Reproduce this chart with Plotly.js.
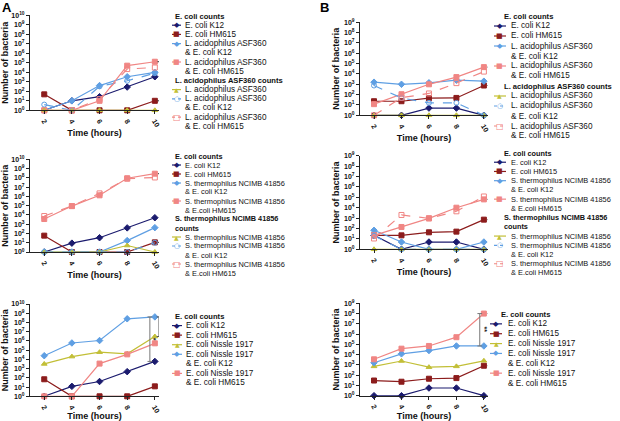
<!DOCTYPE html>
<html><head><meta charset="utf-8">
<script src="https://cdn.plot.ly/plotly-3.0.1.min.js"></script>
<style>html,body{margin:0;padding:0;background:#fff}#chart{width:620px;height:421px}</style>
</head><body><div id="chart"></div>
<script>
const W = 620, H = 421;
const FONT = 'Liberation Sans, Arial, sans-serif';

// ---------- shared axis data ----------
const hours = [2, 4, 6, 8, 10];
const hourLabels = ['2', '4', '6', '8', '10'];
const expsA = [0, 1, 2, 3, 4, 5, 6, 7, 8, 9, 10];
const expsB = [0, 1, 2, 3, 4, 5, 6, 7, 8, 9];

// ---------- Panel A, L. acidophilus ASF360 ----------
const aLa_K12      = [1, 10, 27, 280, 3400];
const aLa_HM615    = [48, 1, 1, 1, 10];
const aLa_coK12    = [1, 10, 400, 3400, 10000];
const aLa_coHM615  = [1, 1, 10, 50000, 130000];
const aLa_alone    = [1, 1, 1, 1, 1];
const aLa_inK12    = [4, 1, 330, 1300, 8000];
const aLa_inHM615  = [1, 1, 15, 22000, 32000];

// ---------- Panel A, S. thermophilus NCIMB 41856 ----------
const aSt_K12      = [1, 9, 35, 400, 5000];
const aSt_HM615    = [58, 1, 1, 1, 11];
const aSt_coK12    = [1, 1, 1, 17, 425];
const aSt_coHM615  = [3600, 90000, 1300000, 90000000, 280000000];
const aSt_alone    = [1, 1, 1, 5, 1];
const aSt_inK12    = [1, 1, 1, 1, 10];
const aSt_inHM615  = [7600, 90000, 2100000, 80000000, 110000000];

// ---------- Panel A, E. coli Nissle 1917 ----------
const aNi_K12      = [1, 12, 40, 470, 6000];
const aNi_HM615    = [70, 1, 1, 1, 12];
const aNi_alone    = [3200, 20000, 60000, 40000, 3000000];
const aNi_coK12    = [25000, 600000, 1100000, 250000000, 400000000];
const aNi_coHM615  = [1, 1, 3500, 35000, 550000];

// ---------- Panel B, L. acidophilus ASF360 ----------
const bLa_K12      = [1, 1, 5, 5, 1];
const bLa_HM615    = [23, 23, 45, 48, 760];
const bLa_coK12    = [1600, 1000, 1400, 2500, 2000];
const bLa_coHM615  = [12, 110, 1000, 5000, 46000];
const bLa_alone    = [1, 1, 1, 1, 1];
const bLa_inK12    = [760, 48, 16, 16, 1];
const bLa_inHM615  = [1, 50, 130, 1300, 17000];

// ---------- Panel B, S. thermophilus NCIMB 41856 ----------
const bSt_K12      = [22, 1, 5, 5, 1];
const bSt_HM615    = [22, 22, 43, 50, 710];
const bSt_coK12    = [67, 5, 1, 1, 5];
const bSt_coHM615  = [22, 140, 950, 10000, 63000];
const bSt_alone    = [1, 1, 1, 1, 1];
const bSt_inK12    = [20, 1, 1, 1, 1];
const bSt_inHM615  = [11, 2000, 950, 4500, 120000];

// ---------- Panel B, E. coli Nissle 1917 ----------
const bNi_K12      = [1, 1, 5.6, 5.6, 1];
const bNi_HM615    = [30, 23, 45, 52, 830];
const bNi_alone    = [720, 2400, 600, 720, 2500];
const bNi_coK12    = [1600, 12000, 25000, 70000, 70000];
const bNi_coHM615  = [3500, 38000, 70000, 500000, 100000000];

// ---------- labels ----------
const LA = 'L. acidophilus ASF360';
const ST = 'S. thermophilus NCIMB 41856';
const NI = 'E. coli Nissle 1917';

// ---------- styles ----------
const STY = {
  k12: {color: '#1b1b6e', symbol: 'diamond', dash: 'solid', glyph: '◆', gs: 7},
  hm:  {color: '#8c1c1c', symbol: 'square', dash: 'solid', glyph: '■', gs: 7},
  lbS: {color: '#5f9fe3', symbol: 'diamond', dash: 'solid', glyph: '◆', gs: 7},
  pkS: {color: '#f08684', symbol: 'square', dash: 'solid', glyph: '■', gs: 7},
  yel: {color: '#c2bf37', symbol: 'triangle-up', dash: 'solid', glyph: '▲', gs: 6},
  lbD: {color: '#5f9fe3', symbol: 'circle-open', dash: 'dash', glyph: '○', gs: 7},
  pkD: {color: '#f08684', symbol: 'square-open', dash: 'dash', glyph: '□', gs: 8}
};

const panels = [
  {id: 1, xpx: [30, 159], ypx: [15.3, 110.3], xr: [0.97, 10.3], exps: expsA,
   series: [
     {title: 'E. coli counts'},
     {d: aLa_K12, k: 'k12', n: 'E. coli K12'},
     {d: aLa_HM615, k: 'hm', n: 'E. coli HM615'},
     {d: aLa_coK12, k: 'lbS', n: LA + '<br>& E. coli K12'},
     {d: aLa_coHM615, k: 'pkS', n: LA + '<br>& E. coli HM615'},
     {title: LA + ' counts'},
     {d: aLa_alone, k: 'yel', n: LA},
     {d: aLa_inK12, k: 'lbD', n: LA + '<br>& E. coli K12'},
     {d: aLa_inHM615, k: 'pkD', n: LA + '<br>& E. coli HM615'}],
   leg: {titleX: 173, symX: [172, 181], textX: 183, y0: 16, step: 9.2, fs: 8.2, tfs: 7.6},
   br: [{x: 10.36, a: aLa_HM615, b: aLa_coHM615, t: '**', c: '#333'}]},
  {id: 2, xpx: [30, 159], ypx: [159.3, 252], xr: [0.97, 10.3], exps: expsA,
   series: [
     {title: 'E. coli counts'},
     {d: aSt_K12, k: 'k12', n: 'E. coli K12'},
     {d: aSt_HM615, k: 'hm', n: 'E. coli HM615'},
     {d: aSt_coK12, k: 'lbS', n: ST + '<br>& E. coli K12'},
     {d: aSt_coHM615, k: 'pkS', n: ST + '<br>& E.coli HM615'},
     {title: ST + '<br>counts'},
     {d: aSt_alone, k: 'yel', n: ST},
     {d: aSt_inK12, k: 'lbD', n: ST + '<br>& E. coli K12'},
     {d: aSt_inHM615, k: 'pkD', n: ST + '<br>& E.coli HM615'}],
   leg: {titleX: 173, symX: [172, 181], textX: 183, y0: 156, step: 9.0, fs: 7.4, tfs: 7.3},
   br: [{x: 10.4, a: aSt_HM615, b: aSt_coHM615, t: '**', c: '#333'}]},
  {id: 3, xpx: [30, 159], ypx: [304, 396.3], xr: [0.97, 10.3], exps: expsA,
   series: [
     {title: 'E. coli counts'},
     {d: aNi_K12, k: 'k12', n: 'E. coli K12'},
     {d: aNi_HM615, k: 'hm', n: 'E. coli HM615'},
     {d: aNi_alone, k: 'yel', n: NI},
     {d: aNi_coK12, k: 'lbS', n: NI + '<br>& E. coli K12'},
     {d: aNi_coHM615, k: 'pkS', n: NI + '<br>& E. coli HM615'}],
   leg: {titleX: 173, symX: [172, 182], textX: 184, y0: 316, step: 9.57, fs: 8.2, tfs: 7.6},
   br: [{x: 9.64, a: aNi_K12, b: aNi_coK12, t: '*', c: '#777'},
        {x: 10.3, a: aNi_alone, b: aNi_coK12, t: '*', c: '#555'}]},
  {id: 4, xpx: [360, 488], ypx: [22.3, 115.3], xr: [0.98, 10.3], exps: expsB,
   series: [
     {title: 'E. coli counts'},
     {d: bLa_K12, k: 'k12', n: 'E. coli K12'},
     {d: bLa_HM615, k: 'hm', n: 'E. coli HM615'},
     {d: bLa_coK12, k: 'lbS', n: LA + '<br>& E. coli K12'},
     {d: bLa_coHM615, k: 'pkS', n: LA + '<br>& E. coli HM615'},
     {title: LA + ' counts'},
     {d: bLa_alone, k: 'yel', n: LA},
     {d: bLa_inK12, k: 'lbD', n: LA + '<br>& E. coli K12'},
     {d: bLa_inHM615, k: 'pkD', n: LA + '<br>& E. coli HM615'}],
   leg: {titleX: 502, symX: [494, 506], textX: 509, y0: 16, step: 10.0, fs: 8.2, tfs: 7.6},
   br: [{x: 10.44, a: bLa_HM615, b: bLa_coHM615, t: '****', c: '#333'}]},
  {id: 5, xpx: [360, 488], ypx: [155.7, 249.3], xr: [0.98, 10.3], exps: expsB,
   series: [
     {title: 'E. coli counts'},
     {d: bSt_K12, k: 'k12', n: 'E. coli K12'},
     {d: bSt_HM615, k: 'hm', n: 'E. coli HM615'},
     {d: bSt_coK12, k: 'lbS', n: ST + '<br>& E. coli K12'},
     {d: bSt_coHM615, k: 'pkS', n: ST + '<br>& E.coli HM615'},
     {title: ST + '<br>counts'},
     {d: bSt_alone, k: 'yel', n: ST},
     {d: bSt_inK12, k: 'lbD', n: ST + '<br>& E. coli K12'},
     {d: bSt_inHM615, k: 'pkD', n: ST + '<br>& E.coli HM615'}],
   leg: {titleX: 502, symX: [494, 506], textX: 509, y0: 153, step: 9.23, fs: 7.4, tfs: 7.3},
   br: [{x: 10.44, a: bSt_HM615, b: bSt_coHM615, t: '**', c: '#333'}]},
  {id: 6, xpx: [360, 488], ypx: [303.3, 395.7], xr: [0.98, 10.3], exps: expsB,
   series: [
     {title: 'E. coli counts'},
     {d: bNi_K12, k: 'k12', n: 'E. coli K12'},
     {d: bNi_HM615, k: 'hm', n: 'E. coli HM615'},
     {d: bNi_alone, k: 'yel', n: NI},
     {d: bNi_coK12, k: 'lbS', n: NI + '<br>& E. coli K12'},
     {d: bNi_coHM615, k: 'pkS', n: NI + '<br>& E. coli HM615'}],
   leg: {titleX: 499, symX: [490, 502], textX: 506, y0: 314, step: 9.86, fs: 8.2, tfs: 7.6},
   br: [{x: 9.7, a: bNi_coK12, b: bNi_coHM615, t: '**', c: '#777'},
        {x: 10.44, a: bNi_HM615, b: bNi_coHM615, t: '**', c: '#777'}]}
];

const traces = [];
const shapes = [];
const annotations = [];
const layout = {
  width: W, height: H,
  margin: {l: 0, r: 0, t: 0, b: 0},
  paper_bgcolor: '#fff', plot_bgcolor: 'rgba(0,0,0,0)',
  showlegend: false,
  font: {family: FONT, color: '#111', size: 8},
  shapes: shapes, annotations: annotations
};

const px2x = p => p / W;
const px2y = p => 1 - p / H;

panels.forEach(p => {
  const xa = p.id === 1 ? 'xaxis' : 'xaxis' + p.id;
  const ya = p.id === 1 ? 'yaxis' : 'yaxis' + p.id;
  const xr = p.id === 1 ? 'x' : 'x' + p.id;
  const yr = p.id === 1 ? 'y' : 'y' + p.id;
  layout[xa] = {
    domain: [px2x(p.xpx[0]), px2x(p.xpx[1])], anchor: yr,
    range: p.xr, showgrid: false, zeroline: false,
    showline: true, linecolor: '#222', linewidth: 1,
    ticks: 'outside', ticklen: 3, tickcolor: '#222',
    tickmode: 'array', tickvals: hours, ticktext: hourLabels, tickangle: 60,
    tickfont: {size: 7, weight: 'bold', family: FONT, color: '#111'},
    title: {text: 'Time (hours)', font: {size: 9, weight: 'bold', family: FONT}, standoff: 2}
  };
  layout[ya] = {
    domain: [px2y(p.ypx[1]), px2y(p.ypx[0])], anchor: xr,
    type: 'log', range: [0, p.exps[p.exps.length - 1]],
    showgrid: false, zeroline: false,
    showline: true, linecolor: '#222', linewidth: 1,
    ticks: 'outside', ticklen: 3, tickcolor: '#222',
    tickmode: 'array', tickvals: p.exps.map(e => Math.pow(10, e)),
    ticktext: p.exps.map(e => '10<sup>' + e + '</sup>'),
    tickfont: {size: 7, weight: 'bold', family: FONT, color: '#111'},
    title: {text: 'Number of bacteria', font: {size: 9, weight: 'bold', family: FONT}, standoff: 2}
  };

  // data traces + manual legend
  let line = 0;
  p.series.forEach(s => {
    const ly = p.leg.y0 + line * p.leg.step;
    if (s.title) {
      s.title.split('<br>').forEach((t, i) => {
        annotations.push({xref: 'paper', yref: 'paper', x: px2x(p.leg.titleX), y: px2y(ly + i * p.leg.step),
          xanchor: 'left', yanchor: 'middle', showarrow: false, text: t,
          font: {size: p.leg.tfs, weight: 'bold', family: FONT, color: '#111'}});
      });
      line += s.title.split('<br>').length;
      return;
    }
    const st = STY[s.k];
    traces.push({
      type: 'scatter', mode: 'lines+markers', x: hours, y: s.d, name: s.n.replace('<br>', ' '),
      xaxis: xr, yaxis: yr, cliponaxis: false,
      line: {color: st.color, width: 1.2, dash: st.dash},
      marker: {symbol: st.symbol, size: 5, color: st.color, line: {color: st.color, width: 1}}
    });
    shapes.push({type: 'line', xref: 'paper', yref: 'paper',
      x0: px2x(p.leg.symX[0]), x1: px2x(p.leg.symX[1]), y0: px2y(ly), y1: px2y(ly),
      line: {color: st.color, width: 1.2, dash: st.dash === 'dash' ? 'dot' : 'solid'}});
    annotations.push({xref: 'paper', yref: 'paper', x: px2x((p.leg.symX[0] + p.leg.symX[1]) / 2), y: px2y(ly),
      xanchor: 'center', yanchor: 'middle', showarrow: false, text: st.glyph,
      font: {size: st.gs, family: 'DejaVu Sans', color: st.color}});
    const parts = s.n.split('<br>');
    parts.forEach((t, i) => {
      annotations.push({xref: 'paper', yref: 'paper', x: px2x(p.leg.textX), y: px2y(ly + i * p.leg.step),
        xanchor: 'left', yanchor: 'middle', showarrow: false, text: t,
        font: {size: p.leg.fs, family: FONT, color: '#111'}});
    });
    line += parts.length;
  });

  // significance brackets
  p.br.forEach(b => {
    const v0 = b.a[b.a.length - 1], v1 = b.b[b.b.length - 1];
    shapes.push({type: 'line', xref: xr, yref: yr, x0: b.x, x1: b.x, y0: v0, y1: v1, line: {color: b.c, width: 1}});
    [v0, v1].forEach(v => shapes.push({type: 'line', xref: xr, yref: yr, x0: b.x - 0.17, x1: b.x + 0.17, y0: v, y1: v, line: {color: b.c, width: 1}}));
    annotations.push({xref: xr, yref: yr, x: b.x + 0.32, y: (Math.log10(v0) + Math.log10(v1)) / 2,
      xanchor: 'center', yanchor: 'middle', showarrow: false, text: b.t, textangle: 90,
      font: {size: 7, weight: 'bold', family: FONT, color: '#111'}});
  });
});

// panel letters
annotations.push({xref: 'paper', yref: 'paper', x: px2x(0), y: px2y(-2), xanchor: 'left', yanchor: 'top',
  showarrow: false, text: 'A', font: {size: 13, weight: 'bold', family: FONT, color: '#000'}});
annotations.push({xref: 'paper', yref: 'paper', x: px2x(318), y: px2y(-2), xanchor: 'left', yanchor: 'top',
  showarrow: false, text: 'B', font: {size: 13, weight: 'bold', family: FONT, color: '#000'}});

Plotly.newPlot('chart', traces, layout, {staticPlot: true, displayModeBar: false});
</script>
</body></html>
